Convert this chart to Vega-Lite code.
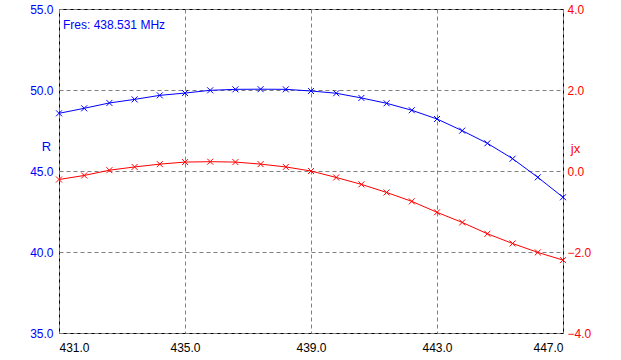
{
  "$schema": "https://vega.github.io/schema/vega-lite/v6.json",
  "width": 504,
  "height": 324,
  "autosize": {"type": "none"},
  "padding": {"left": 59, "top": 9, "right": 58, "bottom": 27},
  "background": "white",
  "config": {
    "view": {"stroke": "black", "strokeWidth": 1},
    "font": "Liberation Sans",
    "axis": {
      "domain": false,
      "ticks": false,
      "labelFont": "Liberation Sans",
      "labelFontSize": 12,
      "titleFont": "Liberation Sans",
      "titleFontSize": 13,
      "titleFontWeight": "normal",
      "gridColor": "#808080",
      "gridDash": [4, 3],
      "gridWidth": 1,
      "gridOpacity": 1
    }
  },
  "data": {
    "values": [
      {"f": 431.0, "R": 48.56, "jx": -0.21},
      {"f": 431.8, "R": 48.87, "jx": -0.11},
      {"f": 432.6, "R": 49.20, "jx": 0.02},
      {"f": 433.4, "R": 49.42, "jx": 0.10},
      {"f": 434.2, "R": 49.67, "jx": 0.17},
      {"f": 435.0, "R": 49.81, "jx": 0.22},
      {"f": 435.8, "R": 49.98, "jx": 0.23},
      {"f": 436.6, "R": 50.04, "jx": 0.22},
      {"f": 437.4, "R": 50.05, "jx": 0.17},
      {"f": 438.2, "R": 50.04, "jx": 0.10},
      {"f": 439.0, "R": 49.94, "jx": 0.00},
      {"f": 439.8, "R": 49.80, "jx": -0.16},
      {"f": 440.6, "R": 49.51, "jx": -0.33},
      {"f": 441.4, "R": 49.18, "jx": -0.53},
      {"f": 442.2, "R": 48.75, "jx": -0.75},
      {"f": 443.0, "R": 48.21, "jx": -1.02},
      {"f": 443.8, "R": 47.49, "jx": -1.27},
      {"f": 444.6, "R": 46.71, "jx": -1.55},
      {"f": 445.4, "R": 45.76, "jx": -1.79},
      {"f": 446.2, "R": 44.61, "jx": -2.01},
      {"f": 447.0, "R": 43.38, "jx": -2.20}
    ]
  },
  "encoding": {
    "x": {
      "field": "f",
      "type": "quantitative",
      "scale": {"domain": [431, 447], "nice": false, "zero": false},
      "axis": {
        "values": [431, 435, 439, 443, 447],
        "format": ".1f",
        "title": null,
        "labelColor": "black",
        "labelPadding": 9,
        "grid": true
      }
    }
  },
  "layer": [
    {
      "encoding": {
        "y": {
          "field": "R",
          "type": "quantitative",
          "scale": {"domain": [35, 55], "nice": false, "zero": false},
          "axis": {
            "orient": "left",
            "values": [35, 40, 45, 50, 55],
            "format": ".1f",
            "labelColor": "blue",
            "labelPadding": 6,
            "grid": true,
            "title": "R",
            "titleColor": "blue",
            "titleAngle": 0,
            "titleAlign": "center",
            "titleBaseline": "middle",
            "titleX": -13,
            "titleY": 137
          }
        }
      },
      "layer": [
        {"mark": {"type": "line", "color": "blue", "strokeWidth": 1}},
        {"mark": {"type": "point", "shape": "M-1,-1L1,1M-1,1L1,-1", "filled": false, "color": "blue", "size": 36, "strokeWidth": 1, "opacity": 1}},
        {
          "transform": [{"filter": "datum.f == 431"}],
          "mark": {"type": "text", "align": "left", "baseline": "middle", "dx": 4, "fill": "blue", "fontSize": 12, "fontWeight": "normal", "font": "Liberation Sans", "text": "Fres: 438.531 MHz"},
          "encoding": {"x": {"datum": 431}, "y": {"datum": 54.0}}
        }
      ]
    },
    {
      "encoding": {
        "y": {
          "field": "jx",
          "type": "quantitative",
          "scale": {"domain": [-4, 4], "nice": false, "zero": false},
          "axis": {
            "orient": "right",
            "values": [-4, -2, 0, 2, 4],
            "format": ".1f",
            "labelColor": "red",
            "labelPadding": 4,
            "grid": false,
            "title": "jx",
            "titleColor": "red",
            "titleAngle": 0,
            "titleAlign": "center",
            "titleBaseline": "middle",
            "titleX": 12,
            "titleY": 139
          }
        }
      },
      "layer": [
        {"mark": {"type": "line", "color": "red", "strokeWidth": 1}},
        {"mark": {"type": "point", "shape": "M-1,-1L1,1M-1,1L1,-1", "filled": false, "color": "red", "size": 36, "strokeWidth": 1, "opacity": 1}}
      ]
    }
  ],
  "resolve": {"scale": {"y": "independent"}}
}
